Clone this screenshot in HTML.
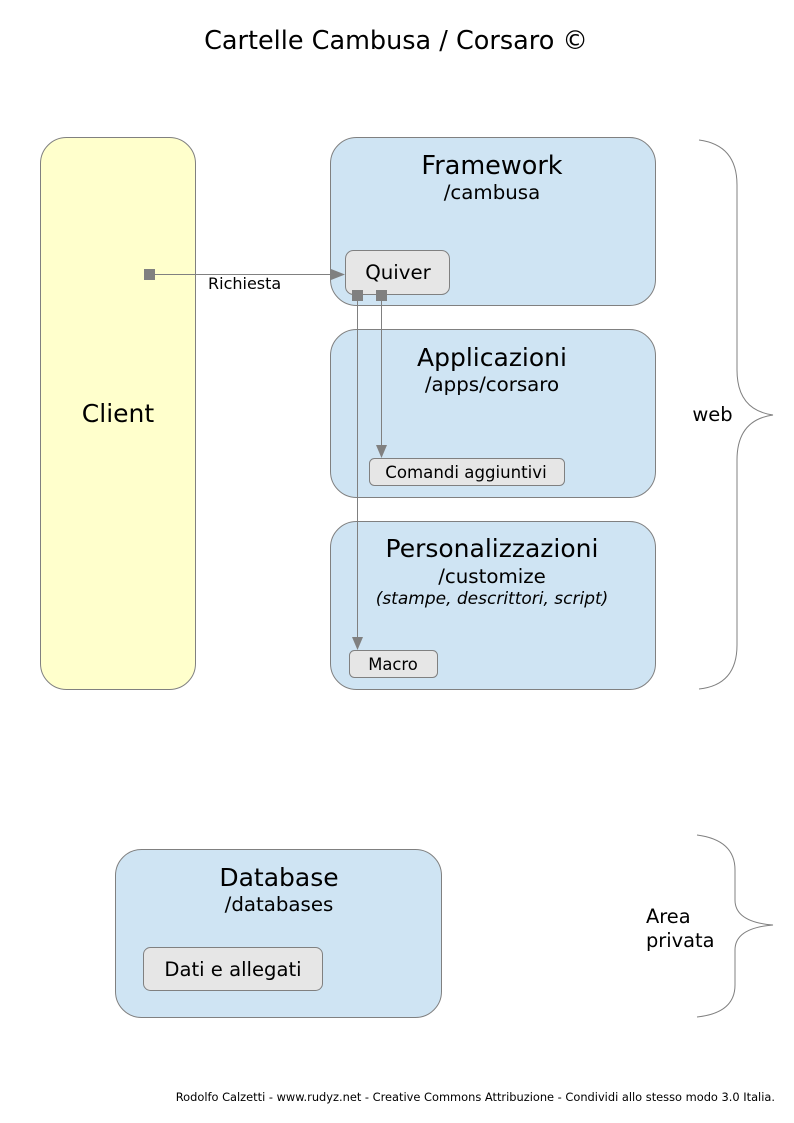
<!DOCTYPE html>
<html><head><meta charset="utf-8"><style>
html,body{margin:0;padding:0;background:#fff}
svg{display:block}
text{font-family:"DejaVu Sans","Liberation Sans",sans-serif;fill:#000}
</style></head><body>
<svg width="794" height="1123" viewBox="0 0 794 1123" xmlns="http://www.w3.org/2000/svg">
<text x="396" y="49" font-size="25.5" text-anchor="middle">Cartelle Cambusa / Corsaro ©</text>

<rect x="40.5" y="137.5" width="155" height="552" rx="26" fill="#ffffcc" stroke="#808080"/>
<text x="118" y="422" font-size="25" text-anchor="middle">Client</text>

<rect x="330.5" y="137.5" width="325" height="168" rx="26" fill="#cfe4f3" stroke="#808080"/>
<text x="492" y="174" font-size="25.5" text-anchor="middle">Framework</text>
<text x="492" y="199" font-size="19.8" text-anchor="middle">/cambusa</text>

<rect x="330.5" y="329.5" width="325" height="168" rx="26" fill="#cfe4f3" stroke="#808080"/>
<text x="492" y="366" font-size="25" text-anchor="middle">Applicazioni</text>
<text x="492" y="391" font-size="19.8" text-anchor="middle">/apps/corsaro</text>

<rect x="330.5" y="521.5" width="325" height="168" rx="26" fill="#cfe4f3" stroke="#808080"/>
<text x="492" y="557" font-size="25" text-anchor="middle">Personalizzazioni</text>
<text x="492" y="583" font-size="19.8" text-anchor="middle">/customize</text>
<text x="492" y="604" font-size="17" font-style="italic" text-anchor="middle">(stampe, descrittori, script)</text>

<rect x="115.5" y="849.5" width="326" height="168" rx="26" fill="#cfe4f3" stroke="#808080"/>
<text x="279" y="886" font-size="25" text-anchor="middle">Database</text>
<text x="279" y="911" font-size="19.8" text-anchor="middle">/databases</text>

<rect x="345.5" y="250.5" width="104" height="44" rx="8" fill="#e6e6e6" stroke="#808080"/>
<text x="398" y="279" font-size="19.8" text-anchor="middle">Quiver</text>

<rect x="369.5" y="458.5" width="195" height="27" rx="5" fill="#e6e6e6" stroke="#808080"/>
<text x="466" y="478" font-size="16.6" text-anchor="middle">Comandi aggiuntivi</text>

<rect x="349.5" y="650.5" width="88" height="27" rx="5" fill="#e6e6e6" stroke="#808080"/>
<text x="393" y="670" font-size="16.4" text-anchor="middle">Macro</text>

<rect x="143.5" y="947.5" width="179" height="43" rx="7" fill="#e6e6e6" stroke="#808080"/>
<text x="233" y="976" font-size="19.6" text-anchor="middle">Dati e allegati</text>

<line x1="150" y1="274.5" x2="334" y2="274.5" stroke="#808080"/>
<polygon points="345,274.5 331,269 331,280" fill="#808080"/>
<rect x="144" y="269" width="11" height="11" fill="#808080"/>
<text x="208" y="289" font-size="16" fill="#000">Richiesta</text>

<line x1="381.5" y1="296" x2="381.5" y2="446" stroke="#808080"/>
<polygon points="381.5,458 376,445 387,445" fill="#808080"/>
<rect x="376" y="290" width="11" height="11" fill="#808080"/>

<line x1="357.5" y1="296" x2="357.5" y2="638" stroke="#808080"/>
<polygon points="357.5,650 352,637 363,637" fill="#808080"/>
<rect x="352" y="290" width="11" height="11" fill="#808080"/>

<path d="M699,140 Q737,145 737,185 L737,370 Q737,410 773,415 Q737,420 737,460 L737,645 Q737,685 699,689" fill="none" stroke="#808080"/>
<text x="712.5" y="421" font-size="19.5" text-anchor="middle">web</text>

<path d="M697,835 Q735,840 735,870 L735,900 Q735,922 773,925 Q735,928 735,950 L735,985 Q735,1013 697,1017" fill="none" stroke="#808080"/>
<text x="646" y="923" font-size="19.4">Area</text>
<text x="646" y="947" font-size="19.4">privata</text>

<text x="775" y="1101" font-size="11.4" text-anchor="end">Rodolfo Calzetti - www.rudyz.net - Creative Commons Attribuzione - Condividi allo stesso modo 3.0 Italia.</text>
</svg>
</body></html>
